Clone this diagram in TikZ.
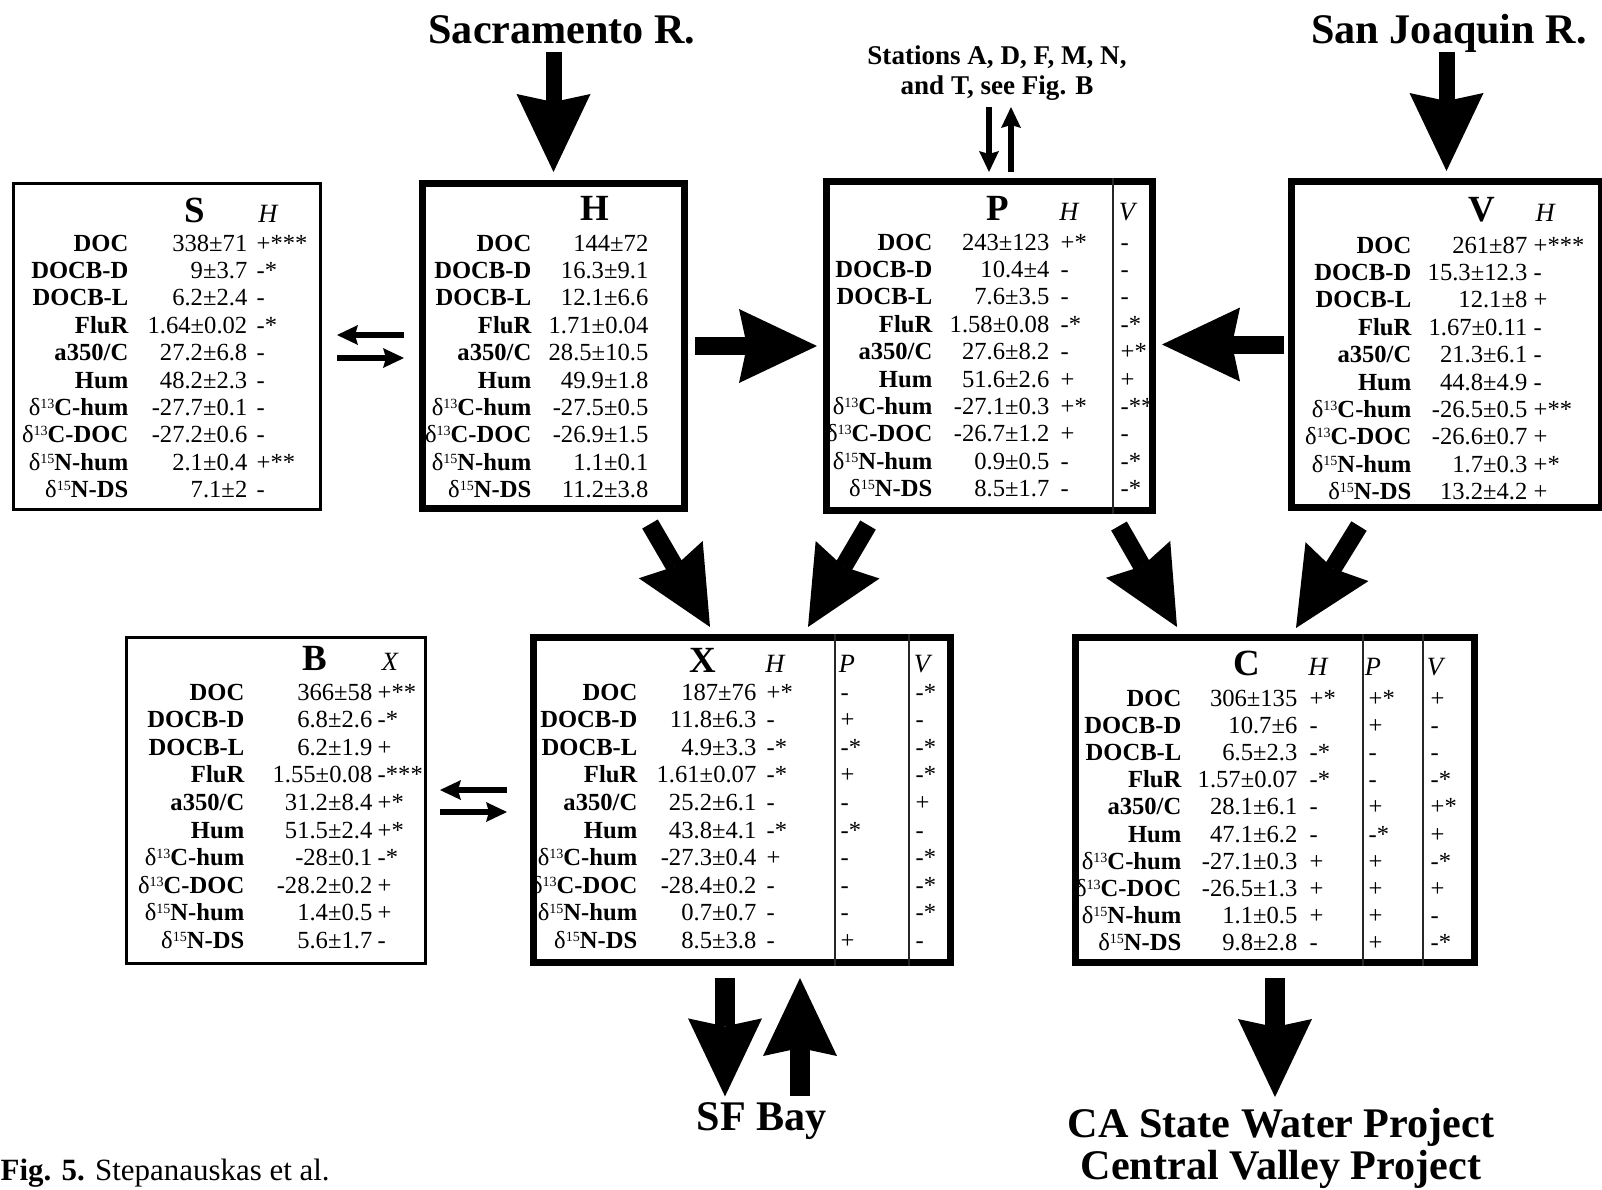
\documentclass[tikz,border=0pt]{standalone}
\usepackage{fontspec}
\setmainfont{Liberation Serif}
\usepackage{tikz}
\usetikzlibrary{arrows.meta,calc,positioning}

\newcommand{\dsup}[1]{\textmd{δ}\raisebox{2pt}{\fontsize{4}{5}\selectfont\mdseries #1}}
% row names of one box: name, right x, first baseline, pitch
\newcommand{\rowlabels}[4]{%
  \foreach \lab [count=\i] in {DOC,DOCB-D,DOCB-L,FluR,a350/C,Hum,\dsup{13}C-hum,\dsup{13}C-DOC,\dsup{15}N-hum,\dsup{15}N-DS}
    \node[lab] (#1-l\i) at (#2,{-#3-(\i-1)*#4}) {\lab};%
}

\begin{document}
\begin{tikzpicture}[
	lab/.style={font=\fontsize{7}{8}\selectfont\bfseries, anchor=base east, inner sep=0pt},
	val/.style={font=\fontsize{7}{8}\selectfont, anchor=base east, inner sep=0pt},
	mk/.style={font=\fontsize{7}{8}\selectfont, anchor=base west, inner sep=0pt},
	ttl/.style={font=\fontsize{10.5}{12}\selectfont\bfseries, anchor=base, inner sep=0pt},
	hdr/.style={font=\fontsize{7.5}{9}\selectfont\itshape, anchor=base, inner sep=0pt},
	river/.style={font=\fontsize{12}{14}\selectfont\bfseries, anchor=base, inner sep=0pt},
	thinbox/.style={draw, line width=0.85pt, inner sep=0pt},
	thickbox/.style={draw, line width=2pt, inner sep=0pt},
	divider/.style={line width=0.8pt, black!85},
	bigarr/.style={line width=0.18cm, -{Stealth[length=0.78cm, width=0.74cm, inset=0.08cm, line width=0pt]}},
	smallarr/.style={line width=0.065cm, -{Stealth[length=0.21cm, width=0.2cm, inset=0.03cm, line width=0pt]}}
]
	\useasboundingbox (0,0) rectangle (16.02,-11.89);

	% stations
	\node[thinbox, minimum width=3.07cm, minimum height=3.26cm]		(S) at (1.67,-3.465) {};
	\node[thickbox, minimum width=2.62cm, minimum height=3.25cm]	(H) at (5.535,-3.46) {};
	\node[thickbox, minimum width=3.26cm, minimum height=3.29cm]	(P) at (9.895,-3.46) {};
	\node[thickbox, minimum width=3.10cm, minimum height=3.26cm]	(V) at (14.465,-3.445) {};
	\node[thinbox, minimum width=2.99cm, minimum height=3.26cm]		(B) at (2.76,-8.005) {};
	\node[thickbox, minimum width=4.17cm, minimum height=3.25cm]	(X) at (7.42,-8.00) {};
	\node[thickbox, minimum width=3.99cm, minimum height=3.25cm]	(C) at (12.75,-8.00) {};

	\draw[divider] ([xshift=2.90cm]P.north west) -- ([xshift=2.90cm]P.south west);
	\draw[divider] ([xshift=3.05cm]X.north west) -- ([xshift=3.05cm]X.south west);
	\draw[divider] ([xshift=3.79cm]X.north west) -- ([xshift=3.79cm]X.south west);
	\draw[divider] ([xshift=2.91cm]C.north west) -- ([xshift=2.91cm]C.south west);
	\draw[divider] ([xshift=3.51cm]C.north west) -- ([xshift=3.51cm]C.south west);

	% sources and sinks
	\node[river] (sac) at (5.62,-0.43) {Sacramento R.};
	\node[river] (sjr) at (14.49,-0.43) {San Joaquin R.};
	\node[font=\fontsize{7.7}{8.5}\selectfont\bfseries, align=center, anchor=north, inner sep=0pt] (stn) at (9.97,-0.45) {Stations A, D, F, M, N,\\and T, see Fig. B};
	\node[river] (sf) at (7.62,-11.30) {SF Bay};
	\node[river, font=\fontsize{12}{10.3}\selectfont\bfseries, align=center, anchor=north] (ca) at (12.81,-11.08) {CA State Water Project\\Central Valley Project};
	\node[font=\fontsize{8.8}{10}\selectfont, anchor=base west, inner sep=0pt] (figcap) at (0,-11.80) {\textbf{Fig. 5.} Stepanauskas et al.};

	% S
	\node[ttl] (S-t) at (1.95,-2.22) {S};
	\node[hdr] (S-h) at (2.68,-2.22) {H};
	\rowlabels{S}{1.29}{2.51}{0.274}
	\foreach \dat/\sigH [count=\i] in {338±71/+***,9±3.7/-*,6.2±2.4/-,1.64±0.02/-*,27.2±6.8/-,48.2±2.3/-,-27.7±0.1/-,-27.2±0.6/-,2.1±0.4/+**,7.1±2/-} {
		\node[val] (S-v\i) at (2.48,{-2.51-(\i-1)*0.274}) {\dat};
		\node[mk] (S-a\i) at (2.56,{-2.51-(\i-1)*0.274}) {\sigH};
	}

	% H
	\node[ttl] (H-t) at (5.95,-2.20) {H};
	\rowlabels{H}{5.32}{2.51}{0.274}
	\foreach \dat [count=\i] in {144±72,16.3±9.1,12.1±6.6,1.71±0.04,28.5±10.5,49.9±1.8,-27.5±0.5,-26.9±1.5,1.1±0.1,11.2±3.8}
		\node[val] (H-v\i) at (6.49,{-2.51-(\i-1)*0.274}) {\dat};

	% P
	\node[ttl] (P-t) at (9.98,-2.20) {P};
	\node[hdr] (P-h) at (10.69,-2.20) {H};
	\node[hdr] (P-k) at (11.27,-2.20) {V};
	\rowlabels{P}{9.33}{2.50}{0.274}
	\foreach \dat/\sigH/\sigV [count=\i] in {243±123/+*/-,10.4±4/-/-,7.6±3.5/-/-,1.58±0.08/-*/-*,27.6±8.2/-/+*,51.6±2.6/+/+,-27.1±0.3/+*/-**,-26.7±1.2/+/-,0.9±0.5/-/-*,8.5±1.7/-/-*} {
		\node[val] (P-v\i) at (10.50,{-2.50-(\i-1)*0.274}) {\dat};
		\node[mk] (P-a\i) at (10.60,{-2.50-(\i-1)*0.274}) {\sigH};
		\node[mk] (P-c\i) at (11.20,{-2.50-(\i-1)*0.274}) {\sigV};
	}

	% V
	\node[ttl] (V-t) at (14.82,-2.21) {V};
	\node[hdr] (V-h) at (15.45,-2.21) {H};
	\rowlabels{V}{14.12}{2.53}{0.274}
	\foreach \dat/\sigH [count=\i] in {261±87/+***,15.3±12.3/-,12.1±8/+,1.67±0.11/-,21.3±6.1/-,44.8±4.9/-,-26.5±0.5/+**,-26.6±0.7/+,1.7±0.3/+*,13.2±4.2/+} {
		\node[val] (V-v\i) at (15.28,{-2.53-(\i-1)*0.274}) {\dat};
		\node[mk] (V-a\i) at (15.33,{-2.53-(\i-1)*0.274}) {\sigH};
	}

	% B
	\node[ttl] (B-t) at (3.15,-6.70) {B};
	\node[hdr] (B-h) at (3.90,-6.70) {X};
	\rowlabels{B}{2.45}{7.00}{0.276}
	\foreach \dat/\sigX [count=\i] in {366±58/+**,6.8±2.6/-*,6.2±1.9/+,1.55±0.08/-***,31.2±8.4/+*,51.5±2.4/+*,-28±0.1/-*,-28.2±0.2/+,1.4±0.5/+,5.6±1.7/-} {
		\node[val] (B-v\i) at (3.73,{-7.00-(\i-1)*0.276}) {\dat};
		\node[mk] (B-a\i) at (3.77,{-7.00-(\i-1)*0.276}) {\sigX};
	}

	% X
	\node[ttl] (X-t) at (7.03,-6.72) {X};
	\node[hdr] (X-h) at (7.75,-6.72) {H};
	\node[hdr] (X-p) at (8.47,-6.72) {P};
	\node[hdr] (X-k) at (9.22,-6.72) {V};
	\rowlabels{X}{6.38}{7.00}{0.276}
	\foreach \dat/\sigH/\sigP/\sigV [count=\i] in {187±76/+*/-/-*,11.8±6.3/-/+/-,4.9±3.3/-*/-*/-*,1.61±0.07/-*/+/-*,25.2±6.1/-/-/+,43.8±4.1/-*/-*/-,-27.3±0.4/+/-/-*,-28.4±0.2/-/-/-*,0.7±0.7/-/-/-*,8.5±3.8/-/+/-} {
		\node[val] (X-v\i) at (7.57,{-7.00-(\i-1)*0.276}) {\dat};
		\node[mk] (X-a\i) at (7.66,{-7.00-(\i-1)*0.276}) {\sigH};
		\node[mk] (X-b\i) at (8.40,{-7.00-(\i-1)*0.276}) {\sigP};
		\node[mk] (X-c\i) at (9.15,{-7.00-(\i-1)*0.276}) {\sigV};
	}

	% C
	\node[ttl] (C-t) at (12.47,-6.75) {C};
	\node[hdr] (C-h) at (13.18,-6.75) {H};
	\node[hdr] (C-p) at (13.73,-6.75) {P};
	\node[hdr] (C-k) at (14.35,-6.75) {V};
	\rowlabels{C}{11.82}{7.06}{0.272}
	\foreach \dat/\sigH/\sigP/\sigV [count=\i] in {306±135/+*/+*/+,10.7±6/-/+/-,6.5±2.3/-*/-/-,1.57±0.07/-*/-/-*,28.1±6.1/-/+/+*,47.1±6.2/-/-*/+,-27.1±0.3/+/+/-*,-26.5±1.3/+/+/+,1.1±0.5/+/+/-,9.8±2.8/-/+/-*} {
		\node[val] (C-v\i) at (12.98,{-7.06-(\i-1)*0.272}) {\dat};
		\node[mk] (C-a\i) at (13.09,{-7.06-(\i-1)*0.272}) {\sigH};
		\node[mk] (C-b\i) at (13.68,{-7.06-(\i-1)*0.272}) {\sigP};
		\node[mk] (C-c\i) at (14.30,{-7.06-(\i-1)*0.272}) {\sigV};
	}

	% flows
	\draw[bigarr, line width=0.16cm, shorten <=0.09cm, shorten >=0.08cm] (H.north |- sac.base) -- (H.north);
	\draw[bigarr, line width=0.16cm, shorten <=0.09cm, shorten >=0.07cm] (V.north |- sjr.base) -- (V.north);
	\coordinate (stnD) at (9.89,-1.07);
	\coordinate (stnU) at (10.11,-1.07);
	\draw[smallarr, shorten >=0.06cm] (stnD) -- (stnD |- P.north);
	\draw[smallarr, shorten <=0.06cm] (stnU |- P.north) -- (stnU);
	\draw[bigarr, shorten <=0.07cm, shorten >=0.06cm] (H.east) -- (P.west);
	\draw[bigarr, shorten <=0.04cm, shorten >=0.06cm] (V.west) -- (V.west -| P.east);
	\draw[bigarr] ([shift={(0.965,-0.12)}]H.south) -- ([shift={(-0.32,0.07)}]X.north);
	\draw[bigarr] ([shift={(-1.215,-0.11)}]P.south) -- ([shift={(0.66,0.07)}]X.north);
	\draw[bigarr] ([shift={(1.295,-0.12)}]P.south) -- ([shift={(-0.98,0.07)}]C.north);
	\draw[bigarr] ([shift={(-0.875,-0.15)}]V.south) -- ([shift={(0.21,0.06)}]C.north);

	% exchange
	\draw[smallarr, shorten <=0.15cm, shorten >=0.15cm] ([yshift=0.11cm]H.west) -- ([yshift=0.11cm]H.west -| S.east);
	\draw[smallarr, shorten <=0.15cm, shorten >=0.15cm] ([yshift=-0.12cm]H.west -| S.east) -- ([yshift=-0.12cm]H.west);
	\draw[smallarr, shorten <=0.23cm, shorten >=0.13cm] ([yshift=0.10cm]X.west) -- ([yshift=0.10cm]X.west -| B.east);
	\draw[smallarr, shorten <=0.13cm, shorten >=0.23cm] ([yshift=-0.12cm]X.west -| B.east) -- ([yshift=-0.12cm]X.west);

	% outflows
	\draw[bigarr, line width=0.2cm, shorten <=0.12cm, shorten >=0.05cm] ([xshift=-0.17cm]X.south) -- ([xshift=-0.17cm]X.south |- sf.north);
	\draw[bigarr, line width=0.2cm, shorten <=0.05cm, shorten >=0.12cm] ([xshift=0.58cm]X.south |- sf.north) -- ([xshift=0.58cm]X.south);
	\draw[bigarr, line width=0.2cm, shorten <=0.12cm, shorten >=0.11cm] (C.south) -- (C.south |- ca.north);
\end{tikzpicture}
\end{document}
